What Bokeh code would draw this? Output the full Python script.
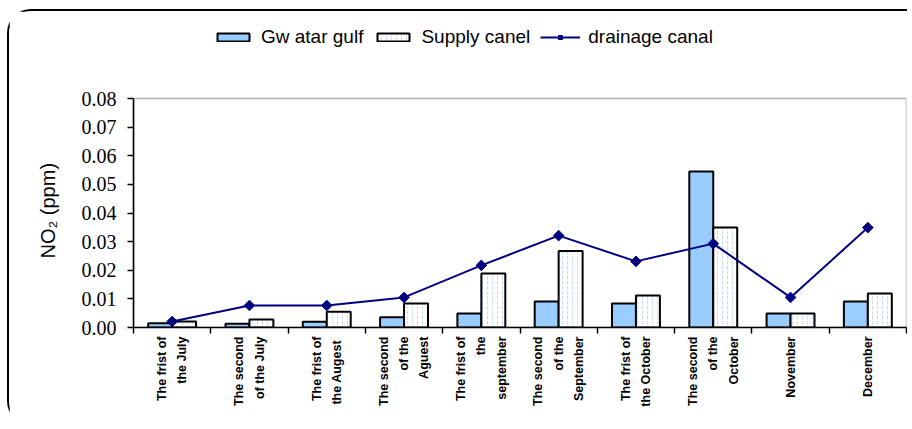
import math
import numpy as np
from bokeh.plotting import figure
from bokeh.models import (Range1d, FixedTicker, NumeralTickFormatter, Legend, LegendItem,
                          ColumnDataSource, BoxAnnotation, Title)
from bokeh.embed import file_html
from bokeh.resources import INLINE

categories = [
    "The frist of\nthe July",
    "The second\nof the July",
    "The frist of\nthe  Augest",
    "The second\nof the\nAguest",
    "The frist of\nthe\nseptember",
    "The second\nof the\nSeptember",
    "The frist of\nthe October",
    "The second\nof the\nOctober",
    "November",
    "December",
]
gwatar_gulf = [0.0015, 0.0013, 0.0020, 0.0036, 0.0049, 0.0091, 0.0084, 0.0545, 0.0049, 0.0091]
supply_canel = [0.0021, 0.0028, 0.0055, 0.0084, 0.0189, 0.0267, 0.0112, 0.0349, 0.0049, 0.0119]
drainage_canal = [0.0021, 0.0077, 0.0077, 0.0105, 0.0217, 0.0321, 0.0231, 0.0293, 0.0105, 0.0349]
y_ticks = [0.0, 0.01, 0.02, 0.03, 0.04, 0.05, 0.06, 0.07, 0.08]
y_max = 0.08
y_title = "NO\u2082 (ppm)"

n = len(categories)
centers = np.arange(n) + 0.5
bar_w = 0.31
src = ColumnDataSource(dict(
    xg=centers - bar_w / 2, xs=centers + bar_w / 2, xc=centers,
    g=gwatar_gulf, s=supply_canel, d=drainage_canal))

SANS = "Liberation Sans"
SERIF = "Liberation Serif"

W, H = 900, 416
B_TOP, B_BOTTOM = 9, 100
frame_h = H - B_TOP - B_BOTTOM
plot_h = 229  # pixel height of the 0..0.08 box
p = figure(width=W, height=H, output_backend="svg", toolbar_location=None,
           x_range=Range1d(0, n), y_range=Range1d(0, y_max * frame_h / plot_h),
           title_location=None,
           min_border_left=124, min_border_top=B_TOP, min_border_right=3,
           min_border_bottom=B_BOTTOM)
p.styles = {"margin-left": "7px", "margin-top": "9px",
            "border-left": "2px solid black", "border-top": "2px solid black",
            "border-top-left-radius": "24px", "border-bottom-left-radius": "24px"}

p.xgrid.visible = False
p.ygrid.visible = False
p.outline_line_color = None
p.background_fill_color = "white"
p.border_fill_color = "white"

box = BoxAnnotation(left=0, right=n, bottom=0, top=y_max, fill_alpha=0,
                    line_color="black", line_width=1.6, level="underlay")
p.add_layout(box)

rg = p.vbar(x="xg", top="g", width=bar_w, bottom=0, source=src,
            fill_color="#99CCFF", line_color="black", line_width=2)
rs = p.vbar(x="xs", top="s", width=bar_w, bottom=0, source=src,
            fill_color="white", line_color="black", line_width=2,
            hatch_pattern=":", hatch_color="#C4DDF5", hatch_scale=5, hatch_weight=1)
rl = p.line(x="xc", y="d", source=src, line_color="#000080", line_width=2)
rm = p.scatter(x="xc", y="d", source=src, marker="square", size=7.5, angle=math.pi / 4,
               fill_color="#000080", line_color="#000080")

# x axis
xa = p.xaxis[0]
xa.ticker = FixedTicker(ticks=list(centers), minor_ticks=list(np.arange(n + 1)))
xa.major_label_overrides = {float(c): lab for c, lab in zip(centers, categories)}
xa.major_tick_line_color = None
xa.minor_tick_line_color = "black"
xa.minor_tick_line_width = 1.5
xa.minor_tick_out = 6
xa.minor_tick_in = 0
xa.axis_line_color = "black"
xa.axis_line_width = 1.6
xa.major_label_orientation = math.pi / 2
xa.major_label_text_font = SANS
xa.major_label_text_font_style = "bold"
xa.major_label_text_font_size = "12.5px"
xa.major_label_text_color = "black"
xa.major_label_text_line_height = 1.45
xa.major_label_standoff = 3

# y axis
ya = p.yaxis[0]
ya.bounds = (0, y_max)
ya.ticker = FixedTicker(ticks=y_ticks)
ya.formatter = NumeralTickFormatter(format="0.00")
ya.major_tick_out = 6
ya.major_tick_in = 0
ya.major_tick_line_width = 1.5
ya.minor_tick_line_color = None
ya.axis_line_width = 1.6
ya.axis_line_color = "black"
ya.major_label_text_font = SERIF
ya.major_label_text_font_size = "20px"
ya.major_label_text_color = "black"
ya.major_label_standoff = 11

ytitle = Title(text=y_title, align="left", offset=69, vertical_align="bottom",
               standoff=40, text_font=SANS, text_font_style="normal",
               text_font_size="20px", text_color="black")
p.add_layout(ytitle, "left")

legend = Legend(items=[
    LegendItem(label="Gw atar gulf", renderers=[rg]),
    LegendItem(label="Supply canel", renderers=[rs]),
    LegendItem(label="drainage canal", renderers=[rl, rm]),
], orientation="horizontal", location=(80, frame_h - 28))
legend.label_text_font = SANS
legend.label_text_font_size = "19px"
legend.label_text_color = "black"
legend.glyph_width = 40
legend.glyph_height = 10
legend.spacing = 10
legend.label_standoff = 8
legend.padding = 0
legend.margin = 0
legend.border_line_color = None
legend.background_fill_alpha = 0
p.add_layout(legend, "center")

open("out.html", "w").write(file_html(p, INLINE))
